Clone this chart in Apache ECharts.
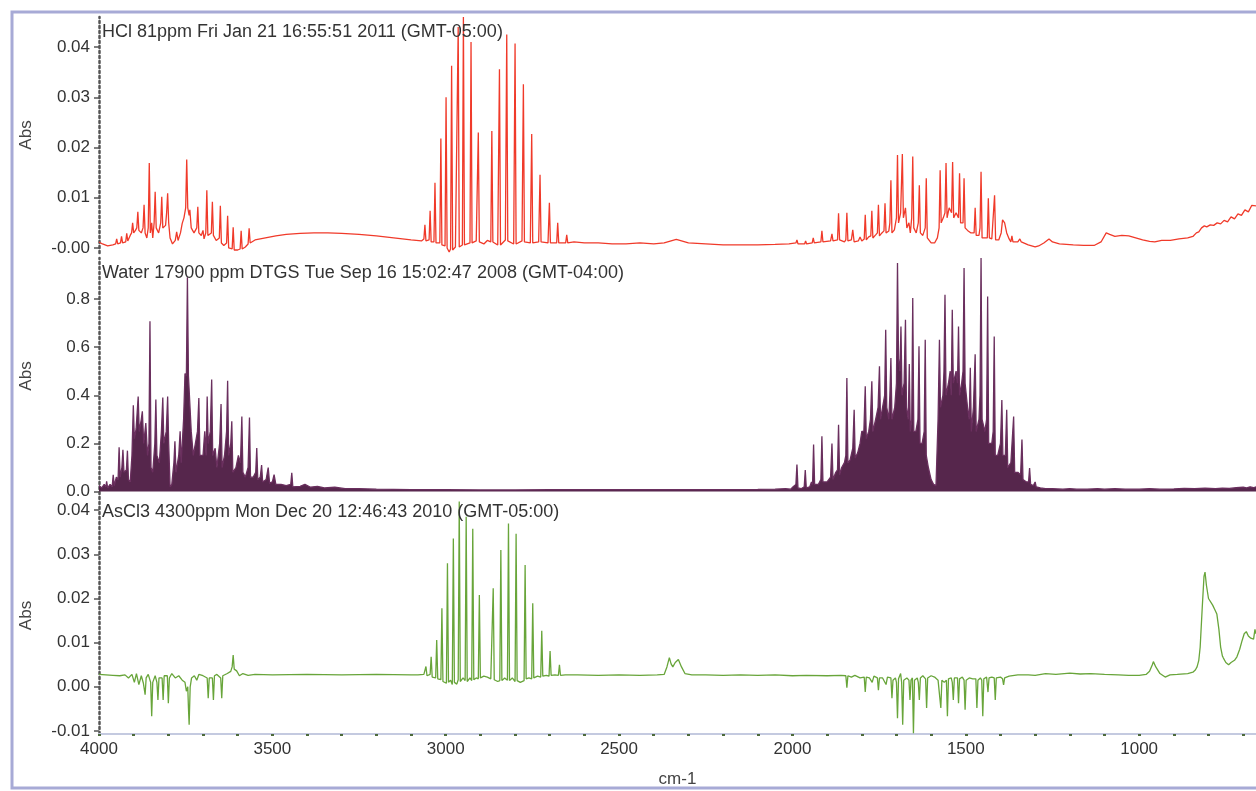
<!DOCTYPE html>
<html>
<head>
<meta charset="utf-8">
<style>
  html, body { margin: 0; padding: 0; background: #fff; }
  #main { width: 1256px; height: 791px; }
</style>
<script src="https://cdn.jsdelivr.net/npm/echarts@6/dist/echarts.min.js"></script>
</head>
<body>
<div id="main"></div>
<script>
// wavenumber (cm-1), absorbance
var hclSpectrum = [
  [4000,0.0012],[3990,0.0008],[3975,0.0004],[3960,0.0006],[3952,0.0008],[3949,0.0018],[3946,0.0008],[3938,0.0010],[3935,0.0023],[3932,0.0010],
  [3923,0.0012],[3920,0.0029],[3917,0.0014],[3910,0.0025],[3906,0.0030],[3903,0.0050],[3900,0.0030],[3895,0.0035],[3891,0.0040],[3888,0.0072],
  [3885,0.0035],[3878,0.0030],[3873,0.0040],[3870,0.0086],[3867,0.0030],[3862,0.0020],[3858,0.0040],[3855,0.0169],[3852,0.0030],[3848,0.0050],
  [3845,0.0020],[3841,0.0050],[3838,0.0112],[3835,0.0040],[3828,0.0030],[3822,0.0050],[3819,0.0102],[3816,0.0040],[3808,0.0045],[3805,0.0070],
  [3802,0.0109],[3799,0.0050],[3795,0.0020],[3788,0.0008],[3780,0.0015],[3776,0.0032],[3772,0.0015],[3765,0.0030],[3760,0.0049],[3755,0.0060],
  [3750,0.0080],[3747,0.0176],[3744,0.0080],[3740,0.0065],[3738,0.0076],[3734,0.0040],[3726,0.0030],[3718,0.0040],[3715,0.0082],[3712,0.0030],
  [3705,0.0025],[3700,0.0035],[3697,0.0018],[3692,0.0030],[3689,0.0115],[3686,0.0025],[3676,0.0030],[3673,0.0092],[3670,0.0025],[3662,0.0015],
  [3653,0.0020],[3650,0.0084],[3647,0.0010],[3640,0.0005],[3632,0.0010],[3629,0.0064],[3626,0.0000],[3616,-0.0002],[3613,0.0041],[3610,-0.0004],
  [3600,-0.0004],[3593,-0.0002],[3590,0.0034],[3587,-0.0002],[3578,0.0002],[3570,0.0008],[3567,0.0039],[3564,0.0010],[3550,0.0016],[3520,0.0020],
  [3490,0.0024],[3460,0.0027],[3420,0.0029],[3380,0.0030],[3340,0.0030],[3300,0.0029],[3250,0.0027],[3200,0.0024],[3150,0.0020],[3100,0.0016],
  [3070,0.0014],[3063,0.0018],[3060,0.0046],[3057,0.0014],[3048,0.0016],[3045,0.0074],[3042,0.0012],[3034,0.0012],[3031,0.0130],[3028,0.0010],
  [3017,0.0010],[3014,0.0218],[3011,0.0006],[3002,0.0004],[2999,0.0300],[2996,0.0000],[2990,-0.0008],[2986,-0.0002],[2983,0.0363],[2980,-0.0004],
  [2972,0.0002],[2967,0.0004],[2964,0.0440],[2961,0.0002],[2952,0.0006],[2949,0.0460],[2946,0.0006],[2930,0.0010],[2927,0.0410],[2924,0.0010],
  [2912,0.0014],[2906,0.0230],[2903,0.0012],[2890,0.0008],[2880,0.0015],[2870,0.0012],[2867,0.0233],[2864,0.0012],[2850,0.0006],[2845,0.0356],
  [2842,0.0006],[2828,0.0016],[2824,0.0425],[2821,0.0014],[2804,0.0008],[2800,0.0407],[2797,0.0008],[2780,0.0014],[2776,0.0326],[2773,0.0012],
  [2756,0.0010],[2752,0.0227],[2749,0.0010],[2732,0.0012],[2728,0.0146],[2725,0.0012],[2705,0.0010],[2701,0.0090],[2698,0.0010],[2680,0.0010],
  [2677,0.0050],[2674,0.0010],[2654,0.0010],[2651,0.0026],[2648,0.0010],[2630,0.0012],[2600,0.0010],[2560,0.0010],[2520,0.0008],[2480,0.0008],
  [2440,0.0010],[2400,0.0008],[2370,0.0010],[2350,0.0014],[2335,0.0017],[2320,0.0014],[2300,0.0010],[2250,0.0008],[2200,0.0006],[2150,0.0006],
  [2100,0.0006],[2050,0.0007],[2010,0.0008],[1990,0.0010],[1987,0.0016],[1984,0.0008],[1965,0.0008],[1962,0.0014],[1959,0.0008],[1943,0.0010],
  [1940,0.0020],[1937,0.0010],[1918,0.0012],[1915,0.0034],[1912,0.0012],[1890,0.0014],[1886,0.0028],[1883,0.0014],[1870,0.0016],[1867,0.0069],
  [1864,0.0016],[1850,0.0012],[1846,0.0016],[1843,0.0070],[1840,0.0014],[1830,0.0016],[1826,0.0036],[1822,0.0012],[1810,0.0014],[1805,0.0022],
  [1800,0.0014],[1793,0.0018],[1790,0.0066],[1787,0.0016],[1780,0.0022],[1774,0.0024],[1771,0.0074],[1768,0.0020],[1760,0.0026],[1755,0.0030],
  [1752,0.0086],[1749,0.0024],[1742,0.0030],[1736,0.0034],[1733,0.0089],[1730,0.0030],[1722,0.0034],[1719,0.0050],[1716,0.0135],[1713,0.0030],
  [1706,0.0036],[1700,0.0060],[1697,0.0185],[1694,0.0050],[1688,0.0070],[1683,0.0187],[1680,0.0060],[1674,0.0080],[1670,0.0040],[1664,0.0050],
  [1660,0.0030],[1656,0.0060],[1653,0.0182],[1650,0.0040],[1643,0.0030],[1637,0.0050],[1634,0.0125],[1631,0.0030],[1624,0.0025],[1617,0.0040],
  [1614,0.0139],[1611,0.0020],[1600,0.0010],[1590,0.0010],[1582,0.0020],[1577,0.0040],[1574,0.0155],[1571,0.0050],[1565,0.0060],[1560,0.0070],
  [1557,0.0169],[1554,0.0060],[1548,0.0080],[1541,0.0070],[1538,0.0171],[1535,0.0060],[1528,0.0070],[1521,0.0060],[1518,0.0149],[1515,0.0050],
  [1508,0.0050],[1505,0.0139],[1502,0.0040],[1495,0.0035],[1485,0.0030],[1476,0.0030],[1473,0.0080],[1470,0.0025],[1462,0.0025],[1459,0.0040],
  [1456,0.0152],[1453,0.0020],[1445,0.0020],[1438,0.0020],[1435,0.0099],[1432,0.0020],[1425,0.0018],[1420,0.0016],[1417,0.0105],[1414,0.0016],
  [1405,0.0016],[1398,0.0030],[1394,0.0056],[1388,0.0050],[1382,0.0030],[1375,0.0018],[1370,0.0012],[1367,0.0024],[1364,0.0012],[1350,0.0012],
  [1344,0.0018],[1340,0.0012],[1320,0.0006],[1300,0.0002],[1290,0.0004],[1275,0.0010],[1260,0.0018],[1250,0.0012],[1230,0.0008],[1210,0.0007],
  [1190,0.0006],[1160,0.0005],[1130,0.0005],[1110,0.0012],[1095,0.0030],[1085,0.0027],[1070,0.0023],[1050,0.0025],[1030,0.0024],[1010,0.0020],
  [990,0.0016],[970,0.0013],[955,0.0012],[935,0.0015],[910,0.0015],[885,0.0018],[860,0.0020],[845,0.0023],[835,0.0030],[828,0.0032],
  [820,0.0040],[812,0.0044],[805,0.0042],[795,0.0046],[785,0.0045],[775,0.0050],[765,0.0048],[755,0.0055],[745,0.0052],[735,0.0062],
  [725,0.0058],[715,0.0068],[705,0.0065],[695,0.0076],[685,0.0072],[675,0.0085],[663,0.0084]
];

var waterSpectrum = [
  [4000,0.025],[3992,0.015],[3985,0.030],[3980,0.020],[3978,0.043],[3975,0.015],[3968,0.030],[3962,0.020],[3959,0.070],[3956,0.025],
  [3950,0.060],[3945,0.050],[3942,0.184],[3939,0.060],[3934,0.100],[3931,0.174],[3928,0.080],[3921,0.090],[3918,0.170],[3915,0.050],
  [3910,0.040],[3905,0.150],[3901,0.358],[3898,0.220],[3893,0.260],[3887,0.395],[3884,0.250],[3878,0.300],[3875,0.333],[3871,0.200],
  [3865,0.285],[3860,0.150],[3856,0.200],[3853,0.707],[3850,0.100],[3845,0.080],[3839,0.200],[3836,0.382],[3833,0.150],[3826,0.120],
  [3820,0.250],[3816,0.391],[3813,0.200],[3806,0.250],[3802,0.395],[3799,0.200],[3795,0.020],[3790,0.030],[3784,0.120],[3781,0.209],
  [3778,0.080],[3770,0.150],[3766,0.250],[3763,0.120],[3756,0.300],[3752,0.490],[3748,0.480],[3745,0.890],[3742,0.480],[3737,0.480],
  [3734,0.250],[3728,0.150],[3722,0.200],[3716,0.250],[3712,0.389],[3709,0.150],[3700,0.150],[3695,0.250],[3691,0.150],[3688,0.395],
  [3685,0.200],[3679,0.250],[3675,0.465],[3672,0.150],[3665,0.180],[3660,0.100],[3652,0.200],[3648,0.364],[3645,0.100],[3638,0.150],
  [3632,0.250],[3629,0.460],[3626,0.150],[3620,0.200],[3617,0.292],[3614,0.080],[3605,0.100],[3598,0.150],[3592,0.120],[3588,0.312],
  [3585,0.080],[3578,0.060],[3570,0.100],[3566,0.308],[3563,0.060],[3555,0.060],[3548,0.080],[3545,0.181],[3542,0.050],[3535,0.060],
  [3531,0.110],[3528,0.040],[3518,0.050],[3512,0.100],[3508,0.035],[3500,0.040],[3495,0.070],[3490,0.030],[3475,0.030],[3460,0.025],
  [3447,0.030],[3444,0.078],[3441,0.020],[3420,0.022],[3406,0.030],[3390,0.018],[3370,0.022],[3350,0.015],[3320,0.018],[3290,0.012],
  [3250,0.012],[3200,0.010],[3100,0.008],[3000,0.008],[2900,0.007],[2800,0.007],[2700,0.008],[2600,0.008],[2500,0.008],[2400,0.008],
  [2300,0.008],[2200,0.008],[2100,0.009],[2050,0.010],[2020,0.012],[2005,0.010],[1998,0.020],[1995,0.012],[1990,0.030],[1987,0.112],
  [1984,0.015],[1975,0.012],[1966,0.020],[1963,0.090],[1960,0.015],[1950,0.020],[1945,0.040],[1942,0.030],[1939,0.195],[1936,0.030],
  [1925,0.030],[1918,0.050],[1915,0.230],[1912,0.040],[1900,0.040],[1890,0.060],[1886,0.200],[1883,0.050],[1875,0.080],[1870,0.090],
  [1867,0.278],[1864,0.070],[1858,0.100],[1850,0.120],[1846,0.150],[1843,0.472],[1840,0.120],[1834,0.130],[1826,0.180],[1822,0.340],
  [1819,0.140],[1812,0.160],[1805,0.200],[1800,0.250],[1794,0.250],[1790,0.437],[1787,0.220],[1780,0.250],[1775,0.300],[1771,0.458],
  [1768,0.250],[1760,0.300],[1753,0.350],[1749,0.520],[1746,0.300],[1740,0.350],[1734,0.400],[1731,0.672],[1728,0.350],[1722,0.300],
  [1719,0.400],[1716,0.555],[1713,0.300],[1705,0.350],[1700,0.450],[1697,0.949],[1694,0.550],[1690,0.500],[1687,0.686],[1684,0.400],
  [1678,0.450],[1674,0.714],[1671,0.350],[1666,0.300],[1663,0.530],[1660,0.250],[1656,0.300],[1653,0.804],[1650,0.250],[1644,0.250],
  [1638,0.300],[1635,0.603],[1632,0.200],[1626,0.200],[1620,0.250],[1617,0.631],[1614,0.150],[1608,0.100],[1600,0.050],[1593,0.030],
  [1586,0.025],[1580,0.300],[1576,0.631],[1573,0.350],[1566,0.400],[1563,0.500],[1560,0.817],[1557,0.400],[1550,0.450],[1545,0.500],
  [1542,0.400],[1539,0.755],[1536,0.450],[1528,0.500],[1524,0.450],[1521,0.686],[1518,0.400],[1512,0.450],[1508,0.500],[1505,0.928],
  [1502,0.450],[1495,0.350],[1490,0.300],[1487,0.514],[1484,0.250],[1478,0.350],[1473,0.570],[1470,0.250],[1462,0.300],[1459,0.400],
  [1456,0.970],[1453,0.300],[1445,0.250],[1440,0.300],[1437,0.810],[1434,0.200],[1425,0.200],[1421,0.250],[1418,0.644],[1415,0.150],
  [1408,0.150],[1400,0.200],[1396,0.380],[1393,0.150],[1386,0.150],[1382,0.340],[1379,0.100],[1370,0.120],[1365,0.120],[1362,0.312],
  [1359,0.080],[1350,0.080],[1342,0.070],[1338,0.216],[1335,0.050],[1325,0.040],[1319,0.040],[1316,0.098],[1313,0.030],[1305,0.025],
  [1300,0.040],[1297,0.020],[1285,0.015],[1280,0.020],[1270,0.012],[1250,0.012],[1220,0.010],[1200,0.012],[1180,0.010],[1150,0.010],
  [1120,0.012],[1100,0.010],[1070,0.012],[1040,0.010],[1000,0.010],[970,0.012],[940,0.010],[900,0.011],[870,0.013],[840,0.012],
  [810,0.014],[780,0.012],[760,0.014],[740,0.013],[720,0.016],[700,0.018],[690,0.015],[680,0.020],[670,0.016],[663,0.020]
];

var ascl3Spectrum = [
  [4000,0.0028],[3980,0.0027],[3960,0.0026],[3940,0.0025],[3925,0.0027],[3915,0.0020],[3905,0.0028],[3898,0.0010],[3892,0.0030],[3885,0.0005],
  [3878,0.0025],[3872,0.0008],[3867,-0.0018],[3864,0.0020],[3858,0.0028],[3851,0.0010],[3848,-0.0067],[3845,0.0010],[3838,0.0025],[3833,0.0010],
  [3830,-0.0030],[3827,0.0020],[3818,0.0020],[3815,-0.0030],[3812,0.0025],[3803,0.0025],[3800,-0.0037],[3797,0.0020],[3790,0.0030],[3780,0.0020],
  [3770,0.0025],[3760,0.0015],[3752,0.0010],[3748,-0.0010],[3744,0.0000],[3742,-0.0048],[3740,-0.0086],[3737,0.0000],[3733,0.0020],[3725,0.0025],
  [3718,0.0015],[3712,0.0028],[3700,0.0025],[3688,0.0020],[3685,-0.0026],[3682,0.0020],[3673,0.0020],[3670,-0.0030],[3667,0.0025],[3660,0.0028],
  [3649,0.0020],[3646,-0.0026],[3643,0.0025],[3630,0.0030],[3620,0.0035],[3616,0.0045],[3613,0.0072],[3610,0.0040],[3603,0.0036],[3595,0.0025],
  [3585,0.0030],[3570,0.0026],[3550,0.0028],[3500,0.0027],[3400,0.0028],[3300,0.0027],[3200,0.0028],[3100,0.0027],[3080,0.0027],[3063,0.0028],
  [3060,0.0030],[3057,0.0046],[3054,0.0025],[3045,0.0028],[3042,0.0068],[3039,0.0022],[3029,0.0020],[3026,0.0106],[3023,0.0018],[3014,0.0016],
  [3011,0.0178],[3008,0.0012],[2998,0.0008],[2995,0.0280],[2992,0.0010],[2986,0.0015],[2981,0.0005],[2978,0.0336],[2975,0.0010],[2968,0.0006],
  [2964,0.0016],[2961,0.0420],[2958,0.0012],[2950,0.0020],[2944,0.0014],[2941,0.0385],[2938,0.0012],[2930,0.0020],[2925,0.0014],[2922,0.0358],
  [2919,0.0016],[2912,0.0020],[2906,0.0018],[2903,0.0208],[2900,0.0020],[2890,0.0024],[2880,0.0022],[2870,0.0018],[2866,0.0015],[2863,0.0223],
  [2860,0.0016],[2850,0.0012],[2844,0.0014],[2841,0.0310],[2838,0.0014],[2830,0.0020],[2822,0.0015],[2819,0.0370],[2816,0.0014],[2808,0.0020],
  [2800,0.0012],[2797,0.0347],[2794,0.0014],[2785,0.0010],[2774,0.0014],[2771,0.0276],[2768,0.0018],[2760,0.0020],[2752,0.0018],[2749,0.0189],
  [2746,0.0020],[2735,0.0024],[2726,0.0022],[2723,0.0127],[2720,0.0024],[2710,0.0026],[2702,0.0024],[2699,0.0081],[2696,0.0026],[2685,0.0027],
  [2675,0.0026],[2672,0.0050],[2669,0.0026],[2655,0.0027],[2651,0.0030],[2648,0.0027],[2620,0.0027],[2560,0.0026],[2500,0.0027],[2440,0.0026],
  [2390,0.0027],[2370,0.0028],[2362,0.0045],[2355,0.0066],[2350,0.0052],[2345,0.0045],[2338,0.0055],[2329,0.0062],[2320,0.0045],[2310,0.0030],
  [2290,0.0027],[2250,0.0027],[2200,0.0026],[2150,0.0027],[2100,0.0026],[2050,0.0027],[2000,0.0025],[1960,0.0026],[1900,0.0025],[1860,0.0026],
  [1846,0.0025],[1843,-0.0002],[1840,0.0025],[1830,0.0022],[1820,0.0026],[1805,0.0020],[1793,0.0022],[1790,-0.0012],[1787,0.0022],[1778,0.0020],
  [1770,0.0010],[1765,0.0024],[1755,0.0020],[1752,-0.0008],[1749,0.0020],[1740,0.0020],[1730,0.0005],[1726,0.0022],[1716,0.0020],[1713,-0.0026],
  [1710,0.0015],[1703,0.0020],[1700,0.0010],[1697,-0.0071],[1694,0.0018],[1688,0.0030],[1685,0.0010],[1682,-0.0086],[1679,0.0015],[1670,0.0020],
  [1664,0.0015],[1661,-0.0030],[1658,0.0015],[1654,0.0020],[1651,-0.0105],[1648,0.0015],[1640,0.0020],[1637,0.0010],[1634,-0.0030],[1631,0.0020],
  [1624,0.0025],[1616,0.0018],[1613,-0.0048],[1610,0.0020],[1600,0.0025],[1590,0.0022],[1580,0.0015],[1575,0.0018],[1572,-0.0048],[1569,0.0015],
  [1562,0.0010],[1556,0.0015],[1553,-0.0067],[1550,0.0018],[1542,0.0020],[1539,0.0010],[1536,-0.0030],[1533,0.0020],[1524,0.0020],[1521,-0.0037],
  [1518,0.0018],[1510,0.0022],[1505,0.0015],[1502,-0.0052],[1499,0.0015],[1490,0.0020],[1480,0.0018],[1471,0.0018],[1468,-0.0048],[1465,0.0015],
  [1458,0.0020],[1454,0.0015],[1451,-0.0067],[1448,0.0018],[1440,0.0022],[1436,-0.0012],[1433,0.0020],[1425,0.0022],[1418,0.0020],[1415,-0.0030],
  [1412,0.0020],[1400,0.0022],[1394,0.0018],[1391,0.0004],[1388,0.0020],[1375,0.0024],[1350,0.0027],[1320,0.0027],[1300,0.0026],[1270,0.0030],
  [1240,0.0028],[1200,0.0031],[1170,0.0029],[1140,0.0030],[1100,0.0028],[1060,0.0027],[1030,0.0026],[1000,0.0026],[980,0.0028],[970,0.0035],
  [962,0.0050],[959,0.0057],[952,0.0045],[940,0.0030],[925,0.0022],[911,0.0027],[890,0.0028],[860,0.0030],[845,0.0033],[838,0.0038],
  [833,0.0045],[828,0.0060],[824,0.0090],[818,0.0180],[813,0.0250],[810,0.0260],[806,0.0230],[800,0.0200],[795,0.0197],[788,0.0185],
  [782,0.0175],[776,0.0165],[770,0.0130],[765,0.0090],[760,0.0070],[757,0.0065],[750,0.0055],[742,0.0050],[735,0.0055],[725,0.0060],
  [718,0.0068],[710,0.0085],[703,0.0105],[697,0.0120],[691,0.0125],[685,0.0115],[678,0.0110],[670,0.0108],[666,0.0130],[663,0.0120]
];

var panelTitles = [
  'HCl 81ppm Fri Jan 21 16:55:51 2011 (GMT-05:00)',
  'Water 17900 ppm DTGS Tue Sep 16 15:02:47 2008 (GMT-04:00)',
  'AsCl3 4300ppm Mon Dec 20 12:46:43 2010 (GMT-05:00)'
];
var xLabels = [4000, 3500, 3000, 2500, 2000, 1500, 1000];
var xMinorTicks = [4000,3900,3800,3700,3600,3500,3400,3300,3200,3100,3000,2900,2800,2700,2600,2500,2400,2300,2200,2100,2000,1900,1800,1700,1600,1500,1400,1300,1200,1100,1000,900,800,700];
var hclTicks = [0, 0.01, 0.02, 0.03, 0.04];
var waterTicks = [0, 0.2, 0.4, 0.6, 0.8];
var ascl3Ticks = [-0.01, 0, 0.01, 0.02, 0.03, 0.04];

var FONT = '"Liberation Sans", Arial, sans-serif';
var X_MIN = 663, X_MAX = 4000;

var panels = [
  { data: hclSpectrum, color: '#f03a2a', area: null, min: -0.001, max: 0.046, ticks: hclTicks, top: 17, height: 236,
    fmt: function (v) { return v === 0 ? '-0.00' : v.toFixed(2); } },
  { data: waterSpectrum, color: '#6a2f5e', area: '#4d1a42', min: -0.01, max: 0.97, ticks: waterTicks, top: 258, height: 236,
    fmt: function (v) { return v.toFixed(1); } },
  { data: ascl3Spectrum, color: '#68a53a', area: null, min: -0.0107, max: 0.043, ticks: ascl3Ticks, top: 497, height: 237,
    fmt: function (v) { return v.toFixed(2); } }
];

var chartDom = document.getElementById('main');
var myChart = echarts.init(chartDom, null, { renderer: 'canvas' });

var grids = [], xAxes = [], yAxes = [], series = [], titles = [];
panels.forEach(function (p, i) {
  var last = i === panels.length - 1;
  grids.push({ left: 99, right: 0, top: p.top, height: p.height });
  titles.push({
    text: panelTitles[i], left: 102, top: p.top + 6, padding: 0,
    textStyle: { fontFamily: FONT, fontSize: 18, fontWeight: 'normal', color: '#333' }
  });
  xAxes.push({
    type: 'value', gridIndex: i, min: X_MIN, max: X_MAX, inverse: true, show: last,
    splitLine: { show: false },
    axisLine: { show: true, onZero: false, lineStyle: { color: '#c4cae0', width: 2 } },
    axisTick: { show: true, customValues: xMinorTicks, length: 2, lineStyle: { color: '#4d6a3c', width: 3 } },
    axisLabel: { customValues: xLabels, margin: 7, fontFamily: FONT, fontSize: 17, color: '#333',
      formatter: function (v) { return String(v); } },
    name: last ? 'cm-1' : '', nameLocation: 'middle', nameGap: 37,
    nameTextStyle: { fontFamily: FONT, fontSize: 17, color: '#444' }
  });
  yAxes.push({
    type: 'value', gridIndex: i, min: p.min, max: p.max,
    splitLine: { show: false },
    axisLine: { show: true, onZero: false, lineStyle: { color: '#555', width: 2.5, type: [2, 3] } },
    axisTick: { show: true, customValues: p.ticks, length: 5, lineStyle: { color: '#555', width: 1.5 } },
    axisLabel: { customValues: p.ticks, formatter: p.fmt, margin: 9, fontFamily: FONT, fontSize: 17, color: '#333' },
    name: 'Abs', nameLocation: 'middle', nameGap: 64, nameRotate: 90,
    nameTextStyle: { fontFamily: FONT, fontSize: 17, color: '#444' }
  });
  var s = {
    type: 'line', xAxisIndex: i, yAxisIndex: i, data: p.data,
    showSymbol: false, symbol: 'none', smooth: false,
    lineStyle: { color: p.color, width: 1.3 }
  };
  if (p.area) s.areaStyle = { color: p.area, opacity: 0.95 };
  series.push(s);
});

var option = {
  backgroundColor: '#fff',
  animation: false,
  title: titles,
  grid: grids,
  xAxis: xAxes,
  yAxis: yAxes,
  series: series,
  graphic: [{
    type: 'rect', silent: true, z: 100,
    shape: { x: 12, y: 12, width: 1262, height: 776 },
    style: { fill: 'none', stroke: '#a7aad6', lineWidth: 3 }
  }]
};

option && myChart.setOption(option);
window.onresize = function () { myChart.resize(); };
</script>
</body>
</html>
